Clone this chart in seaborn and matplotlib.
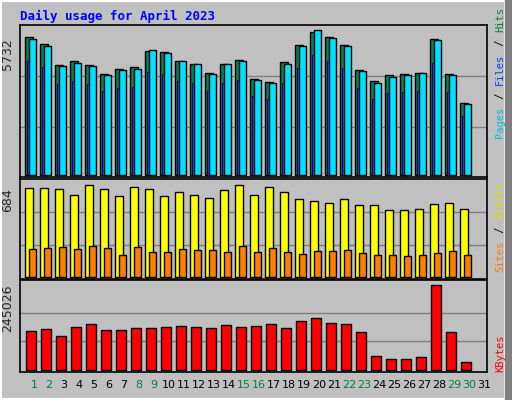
import matplotlib
matplotlib.use("Agg")
import matplotlib.pyplot as plt
import seaborn as sns
import numpy as np

sns.set_style("white")
plt.rcParams['font.family'] = ['DejaVu Sans Mono', 'DejaVu Sans']

days = list(range(1, 32))
hits =   [5760,5480,4620,4760,4620,4240,4440,4500,5200,5140,4790,4660,4260,4660,4830,4000,3890,4710,5420,6000,5780,5420,4400,3920,4170,4220,4280,5690,4220,3000,0]
files =  [5690,5400,4580,4700,4580,4200,4390,4430,5210,5100,4760,4640,4230,4630,4790,3970,3850,4660,5380,6050,5720,5380,4350,3850,4120,4170,4250,5640,4180,2960,0]
pages =  [4760,4500,3800,3940,3800,3500,3650,3690,4330,4240,3950,3850,3520,3850,3980,3300,3200,3870,4470,5020,4760,4470,3620,3200,3430,3460,3530,4690,3470,2460,0]
visits = [684,684,676,630,710,676,620,692,676,620,654,630,610,670,706,630,692,654,600,586,572,600,554,554,518,518,526,560,572,526,0]
sites =  [215,222,230,215,238,222,172,230,192,192,215,207,207,192,238,192,222,192,177,200,200,207,185,169,169,162,169,185,200,169,0]
kbytes = [112000,118000,98000,124000,132000,115000,115000,121000,121000,124000,127000,124000,121000,130000,124000,127000,133000,121000,141000,150000,135000,133000,110000,40000,32000,32000,37000,245026,110000,23000,0]
weekend = [1,2,8,9,15,16,22,23,29,30]

W, H = 512, 400
fig = plt.figure(figsize=(W/100, H/100), dpi=100)
fig.patch.set_facecolor('#C0C0C0')
x = np.arange(31)

def mkax(top, bottom):
    ax = fig.add_axes([20/W, 1-bottom/H, 467/W, (bottom-top)/H])
    ax.set_facecolor('#C0C0C0')
    ax.set_xlim(-0.33, 30.8)
    for s in ax.spines.values():
        s.set_color('black'); s.set_linewidth(1.2)
    ax.set_xticks([]); ax.set_yticks([])
    return ax

def setylim(ax, top, bottom, base, peak_y, vmax, grids):
    ppx = vmax / (base - peak_y)
    ax.set_ylim(-(bottom-base)*ppx, (base-top)*ppx)
    for g in grids:
        ax.axhline(g*vmax, color='#808080', lw=1, zorder=0)
    ax.text(-0.012, vmax, f"{vmax}", rotation=90, ha='right', va='top',
            transform=ax.get_yaxis_transform(), fontsize=9, family='DejaVu Sans')

def bars(ax, offset, vals, width, color, lw=1, z=2):
    v = np.array(vals, dtype=float)
    m = v > 0
    ax.bar(x[m] + offset, v[m], width=width, color=color, edgecolor='black',
           linewidth=lw, align='edge', zorder=z)

ax1 = mkax(25, 177)
setylim(ax1, 25, 177, 175, 38, 5732, [0.35, 0.72])
bars(ax1, 0, hits, 0.53, '#00805C', z=2)
bars(ax1, 0.27, files, 0.47, '#00E0FF', z=3)
bars(ax1, 0.13, pages, 0.13, '#0040FF', lw=0.6, z=4)

ax2 = mkax(179, 279)
setylim(ax2, 179, 279, 277, 188, 684, [0.36, 0.73])
bars(ax2, 0, visits, 0.53, '#FFFF00', z=2)
bars(ax2, 0.27, sites, 0.47, '#FF8000', z=3)

ax3 = mkax(280, 372)
setylim(ax3, 280, 372, 370, 285, 245026, [0.34, 0.67])
bars(ax3, 0.07, kbytes, 0.66, '#FF0000', z=2)

for d in days:
    fig.text((20 + (d-1+0.6+0.33)*15)/W, 1-390/H, str(d), ha='center', va='bottom',
             fontsize=8, family='DejaVu Sans', color='#008040' if d in weekend else 'black')

fig.text(20/W, 1-16/H, "Daily usage for April 2023", color='#0000FF', fontsize=9,
         fontweight='bold', va='center', ha='left')

def vlabel(parts, ybottom):
    y = ybottom
    for txt, col in parts:
        fig.text(500/W, 1-y/H, txt, rotation=90, color=col, fontsize=7.5,
                 ha='center', va='bottom')
        y -= len(txt) * 6.6
vlabel([("Pages", '#00C0E0'), (" / ", 'black'), ("Files", '#0040FF'), (" / ", 'black'), ("Hits", '#008040')], 138)
vlabel([("Sites", '#FF8000'), (" / ", 'black'), ("Visits", '#E0E000')], 272)
vlabel([("KBytes", '#FF0000')], 372)

fig.add_artist(plt.Rectangle((0.002, 0.002), 0.984, 0.995, transform=fig.transFigure,
                             fill=False, edgecolor='white', lw=1.5))
fig.add_artist(plt.Rectangle((0.987, 0), 0.013, 1, transform=fig.transFigure,
                             color='#808080'))
fig.savefig("out.png", dpi=100, facecolor=fig.get_facecolor())
